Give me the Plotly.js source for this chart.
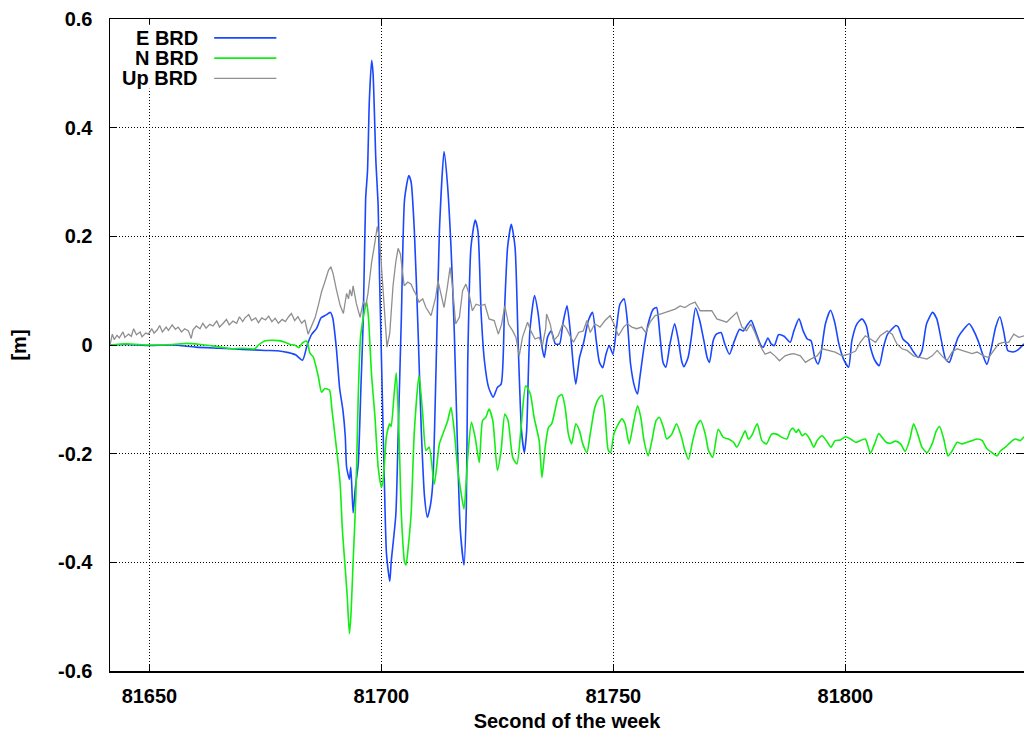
<!DOCTYPE html>
<html>
<head>
<meta charset="utf-8">
<script src="https://cdn.plot.ly/plotly-3.0.1.min.js"></script>
<style>html,body{margin:0;padding:0;background:#fff;}#chart{width:1024px;height:734px;}</style>
</head>
<body>
<div id="chart"></div>
<script>
// ---- data ----
const seriesNames = ["E BRD", "N BRD", "Up BRD"];
const xTickVals = [81650, 81700, 81750, 81800];
const xTickText = ["81650", "81700", "81750", "81800"];
const yTickVals = [-0.6, -0.4, -0.2, 0, 0.2, 0.4, 0.6];
const yTickText = ["-0.6", "-0.4", "-0.2", "0", "0.2", "0.4", "0.6"];

const eT = [81641.5,81645,81650,81655,81660,81665,81670,81675,81678,81680,81681.5,81683,81684,81685,81686,81687,81688,81689,81689.5,81690.3,81691,81691.7,81692.2,81692.5,81693.1,81693.4,81693.9,81694.3,81694.6,81695,81695.6,81696.1,81696.6,81697,81697.4,81697.9,81698.2,81698.8,81699.3,81699.6,81700,81700.6,81701.1,81701.8,81702.1,81703.1,81703.6,81704.3,81705,81705.9,81706.4,81707.1,81707.9,81708.6,81709.3,81709.9,81710.6,81711.1,81711.8,81712.5,81713.5,81714.2,81715,81715.7,81716.5,81717,81717.8,81718.3,81718.6,81719.3,81720.2,81720.8,81721.5,81722.2,81723.1,81724.1,81725,81725.8,81726.5,81727.2,81728,81728.8,81729.5,81730.2,81730.8,81731.3,81732,81733,81733.8,81734.5,81735.1,81735.8,81736.6,81737.5,81738.4,81739.1,81740,81740.7,81741.4,81741.9,81742.7,81743.6,81744.6,81745.5,81746.3,81747,81747.7,81748.4,81749.1,81749.9,81750.6,81751.4,81752.3,81753,81753.7,81754.6,81755.2,81755.7,81756.6,81757.5,81758.6,81759.3,81760,81760.7,81761.3,81762.2,81763.2,81763.9,81764.7,81765.2,81766.1,81766.8,81767.7,81768.6,81769.5,81770.2,81770.7,81771.5,81772.2,81773.2,81774,81775,81776.1,81777.2,81778,81778.8,81779.7,81780.6,81781.8,81782.3,81783.3,81784,81784.7,81785.6,81786.8,81788.1,81788.9,81790,81790.9,81791.8,81792.6,81793.4,81794.1,81794.6,81795.7,81796.8,81797.7,81798.6,81799.6,81800.7,81801.4,81802.5,81803.6,81804.5,81805.4,81806.4,81807.3,81808.2,81809.1,81810,81810.9,81811.4,81812.4,81813.6,81814.7,81815.7,81816.5,81817.5,81818.8,81819.7,81820.7,81821.6,81822.4,81823.2,81824.3,81825.5,81826.7,81827.5,81828.6,81829.7,81830.5,81831.5,81832.4,81833.3,81834.1,81835,81836.1,81837.2,81838.5];
const eV = [0.0,0.001,-0.001,0.0,-0.004,-0.006,-0.008,-0.010,-0.011,-0.014,-0.018,-0.028,0.0,0.02,0.03,0.05,0.055,0.06,0.05,-0.007,-0.08,-0.12,-0.167,-0.225,-0.247,-0.225,-0.309,-0.27,-0.247,-0.22,-0.073,0.051,0.269,0.32,0.45,0.524,0.50,0.34,0.255,0.124,-0.022,-0.24,-0.385,-0.435,-0.40,-0.313,-0.167,0.051,0.269,0.312,0.30,0.21,0.026,-0.158,-0.28,-0.317,-0.293,-0.25,-0.035,0.21,0.356,0.30,0.18,0.026,-0.22,-0.34,-0.405,-0.3,-0.035,0.18,0.23,0.21,0.057,-0.029,-0.078,-0.096,-0.078,-0.072,0.057,0.18,0.222,0.18,-0.004,-0.158,-0.198,-0.158,0.026,0.091,0.057,0.002,-0.023,0.014,0.026,0.002,0.002,0.039,0.072,0.026,-0.041,-0.072,-0.023,0.005,0.045,0.06,0.008,-0.032,-0.042,-0.017,-0.001,-0.017,0.026,0.075,0.085,0.045,-0.035,-0.078,-0.09,-0.06,-0.004,0.039,0.066,0.069,0.02,-0.032,-0.041,0.002,0.039,0.014,-0.029,-0.04,-0.023,0.014,0.068,0.045,0.008,-0.023,-0.032,0.008,0.02,0.023,0.002,-0.017,0.008,0.029,0.026,0.036,0.045,0.026,-0.001,-0.004,0.013,0.002,-0.001,0.019,0.016,0.005,0.026,0.048,0.026,0.011,0.008,-0.023,-0.035,-0.023,0.039,0.064,0.042,0.002,-0.026,-0.041,0.008,0.039,0.048,0.036,-0.004,-0.029,-0.038,-0.004,0.02,0.029,0.036,0.033,0.011,0.002,-0.013,-0.023,-0.011,0.039,0.06,0.048,0.008,-0.026,-0.032,-0.013,0.014,0.029,0.039,0.029,0.008,-0.02,-0.036,-0.004,0.033,0.052,0.026,-0.01,-0.013,-0.009,0.002];

const nT = [81641.5,81645,81650,81655,81658,81661,81664,81667.7,81670,81672.7,81673.5,81675,81677.8,81679.2,81680.3,81681.3,81682.2,81683,81683.9,81684.6,81685.3,81686.4,81687.1,81687.8,81688.8,81689.3,81690,81690.5,81691.1,81691.6,81692.1,81692.6,81693.1,81693.4,81693.9,81694.5,81695,81695.5,81696.1,81696.8,81697.2,81697.9,81698.6,81699.3,81700,81700.4,81701.1,81701.8,81702.1,81702.7,81703.2,81703.8,81704.3,81705,81705.3,81705.8,81706.4,81707.1,81708.1,81708.9,81709.6,81710.3,81711.4,81712.5,81713.5,81714.3,81715,81715.7,81716.4,81717.1,81717.8,81718.6,81719.4,81720.2,81721.1,81721.8,81722.5,81723.2,81724,81725,81725.8,81726.6,81727.3,81728.3,81729.2,81730.1,81731.1,81732.1,81732.9,81734,81734.6,81735.3,81736,81736.7,81737.4,81738.1,81738.9,81739.6,81740.3,81741,81741.9,81742.7,81743.4,81744.3,81745,81746,81747,81747.6,81748.2,81748.9,81749.4,81750.1,81750.9,81751.8,81752.5,81753.4,81754.3,81755.2,81755.9,81756.6,81757.5,81758.3,81759.2,81759.9,81760.8,81761.5,81762.6,81763.6,81764.7,81765.4,81766.2,81767.1,81768,81768.8,81769.8,81770.5,81771.4,81772.6,81773.7,81774.8,81775.9,81776.6,81777.7,81778.4,81779.1,81779.8,81781,81782,81783,81784.1,81785.2,81786.3,81787.4,81788.1,81788.7,81789.4,81789.9,81790.7,81791.4,81792.3,81793.2,81793.9,81795,81795.9,81796.9,81797.8,81798.9,81800,81801.1,81802.2,81803.2,81804.3,81805.4,81806.3,81807.2,81807.9,81808.8,81809.7,81810.8,81811.9,81812.9,81813.9,81814.7,81815.6,81816.5,81817.6,81818.7,81819.6,81820.3,81821.2,81822.1,81823,81824.1,81825.1,81826.2,81827.3,81828.4,81829.5,81830.5,81831.6,81832.7,81833.4,81834.5,81835.6,81836.6,81837.7,81838.5];
const nV = [0.0,0.002,0.0,0.001,0.003,0.001,-0.002,-0.007,-0.006,-0.007,0.0,0.008,0.008,0.005,0.001,0.0,-0.005,0.004,0.007,-0.015,-0.022,-0.058,-0.087,-0.08,-0.083,-0.116,-0.167,-0.204,-0.255,-0.342,-0.4,-0.458,-0.531,-0.502,-0.4,-0.276,-0.095,0.015,0.051,0.08,0.051,-0.058,-0.131,-0.225,-0.262,-0.247,-0.167,-0.145,-0.15,-0.095,-0.051,-0.167,-0.313,-0.4,-0.405,-0.37,-0.311,-0.158,-0.056,-0.127,-0.194,-0.188,-0.256,-0.182,-0.158,-0.139,-0.115,-0.158,-0.225,-0.268,-0.302,-0.207,-0.142,-0.17,-0.216,-0.139,-0.133,-0.118,-0.139,-0.231,-0.194,-0.127,-0.139,-0.207,-0.219,-0.152,-0.075,-0.09,-0.133,-0.176,-0.244,-0.188,-0.152,-0.145,-0.121,-0.096,-0.091,-0.115,-0.164,-0.182,-0.145,-0.158,-0.182,-0.198,-0.164,-0.115,-0.096,-0.093,-0.127,-0.194,-0.198,-0.164,-0.148,-0.136,-0.145,-0.182,-0.145,-0.112,-0.133,-0.176,-0.204,-0.176,-0.139,-0.133,-0.152,-0.173,-0.164,-0.145,-0.17,-0.194,-0.21,-0.176,-0.148,-0.139,-0.164,-0.194,-0.207,-0.155,-0.17,-0.173,-0.179,-0.188,-0.17,-0.158,-0.173,-0.167,-0.145,-0.176,-0.182,-0.164,-0.164,-0.17,-0.173,-0.158,-0.153,-0.161,-0.155,-0.167,-0.163,-0.173,-0.188,-0.176,-0.167,-0.176,-0.188,-0.176,-0.175,-0.169,-0.173,-0.179,-0.176,-0.173,-0.199,-0.182,-0.163,-0.17,-0.179,-0.181,-0.177,-0.182,-0.196,-0.173,-0.145,-0.164,-0.188,-0.198,-0.182,-0.158,-0.15,-0.173,-0.204,-0.195,-0.179,-0.182,-0.179,-0.176,-0.173,-0.176,-0.191,-0.198,-0.204,-0.195,-0.188,-0.179,-0.173,-0.176,-0.169];

const uT = [81641.5,81642,81642.4,81643,81643.5,81644.3,81644.7,81645.5,81646.1,81646.6,81647.2,81648,81648.4,81649.2,81649.8,81650.5,81651,81651.7,81652.2,81652.8,81653.6,81654.1,81654.9,81655.6,81656.2,81656.9,81657.6,81658.4,81659,81659.4,81660.1,81660.9,81661.5,81662.2,81663,81663.7,81664.5,81665.1,81665.9,81666.6,81667.2,81668,81668.8,81669.4,81670.1,81670.6,81671.4,81672,81672.9,81673.5,81674.2,81675,81675.7,81676.4,81677.1,81677.8,81678.6,81679.3,81680,81680.6,81681.3,81682,81682.8,81683.5,81684.2,81685,81685.7,81686.4,81687.1,81687.8,81688.6,81689.1,81689.6,81690.3,81691.1,81691.8,81692.5,81692.9,81693.2,81693.6,81693.9,81694.6,81695.4,81696.1,81696.6,81697.1,81697.9,81698.6,81699.1,81699.6,81700.2,81700.7,81701.2,81701.8,81702.5,81703.1,81703.6,81704.1,81704.9,81705.7,81706.4,81707,81707.4,81708.1,81708.9,81709.6,81710.7,81711.7,81712.2,81712.8,81713.5,81714.2,81714.8,81715.3,81716,81716.8,81717.5,81718.2,81718.9,81719.6,81720.4,81721.4,81722.3,81723.2,81724.3,81725.2,81725.9,81726.6,81727.4,81728.3,81729,81729.7,81730.4,81731.5,81732.2,81733.1,81734,81734.7,81735.4,81735.6,81736.4,81737.1,81738.1,81739.1,81739.9,81740.8,81741.4,81742.5,81743.5,81744.3,81745,81746,81747.1,81748.2,81749.3,81750.1,81751.1,81752.2,81753,81754,81755,81756.1,81757,81757.9,81759,81760.1,81761.1,81762.2,81763.3,81764.4,81765.4,81766.5,81767.6,81768.7,81769.8,81770.8,81771.2,81772.3,81773.3,81774.4,81775.5,81776.6,81777.7,81778.7,81779.6,81780.5,81781.6,81782.7,81783.8,81784.8,81785.8,81787,81788.1,81788.9,81790.3,81791.4,81792.5,81793.9,81795,81796.4,81797.8,81799.3,81800.7,81802.2,81803.2,81804.3,81805.4,81806.5,81807.5,81809,81810.1,81811.1,81812.2,81813.3,81814.7,81816.2,81817.6,81818.7,81819.8,81820.8,81821.9,81823,81824.1,81825.1,81826.2,81827.3,81828.4,81829.8,81830.9,81832,81833,81834.1,81835.2,81836.3,81837.4,81838.5];
const uV = [0.0,0.02,0.01,0.018,0.013,0.024,0.014,0.02,0.016,0.03,0.019,0.024,0.015,0.022,0.02,0.03,0.022,0.028,0.036,0.024,0.033,0.027,0.037,0.029,0.033,0.024,0.03,0.026,0.012,0.028,0.035,0.03,0.04,0.031,0.038,0.035,0.044,0.033,0.04,0.047,0.037,0.044,0.04,0.052,0.043,0.05,0.056,0.045,0.05,0.041,0.05,0.046,0.053,0.043,0.049,0.04,0.047,0.043,0.052,0.058,0.045,0.052,0.04,0.046,0.02,0.035,0.05,0.073,0.098,0.116,0.138,0.144,0.131,0.102,0.073,0.058,0.095,0.085,0.102,0.09,0.109,0.076,0.051,0.08,0.07,0.095,0.153,0.189,0.218,0.196,0.124,0.051,-0.004,0.022,0.109,0.153,0.178,0.167,0.109,0.116,0.112,0.1,0.094,0.079,0.085,0.069,0.054,0.088,0.118,0.095,0.069,0.106,0.143,0.11,0.039,0.051,0.1,0.112,0.094,0.063,0.075,0.072,0.075,0.048,0.045,0.02,0.038,0.072,0.038,0.026,0.014,-0.02,0.014,0.042,0.026,0.011,0.014,-0.001,0.03,0.057,0.038,0.008,0.017,0.039,0.03,0.014,0.005,0.023,0.026,0.045,0.023,0.039,0.033,0.045,0.054,0.039,0.017,0.033,0.039,0.033,0.03,0.033,0.023,0.042,0.054,0.057,0.06,0.063,0.066,0.072,0.069,0.075,0.079,0.063,0.063,0.063,0.063,0.048,0.045,0.042,0.051,0.06,0.033,0.026,0.039,0.023,-0.001,-0.017,-0.013,-0.02,-0.029,-0.02,-0.017,-0.016,-0.02,-0.032,-0.026,-0.02,-0.007,-0.01,-0.013,-0.02,-0.017,-0.011,0.005,0.017,0.011,0.005,0.017,0.026,0.02,0.002,-0.007,-0.01,-0.02,-0.023,-0.026,-0.02,-0.01,-0.02,-0.029,-0.013,-0.007,-0.01,-0.013,-0.016,-0.013,-0.02,-0.023,-0.011,0.002,0.005,0.005,0.02,0.014,0.017];

// ---- styling ----
const colors = ["#1a47ff", "#11ee11", "#8f8f8f"];
const widths = [1.6, 1.6, 1.3];
const shapesLine = ["spline", "spline", "linear"];
const FONT = "Liberation Sans, Arial, Helvetica, sans-serif";
const tickFont = {family: FONT, size: 20, color: "#000", weight: "bold"};

const xs = [eT, nT, uT];
const ys = [eV, nV, uV];
const traces = seriesNames.map((name, i) => ({
  type: "scatter", mode: "lines", name: name,
  x: xs[i], y: ys[i],
  line: {color: colors[i], width: widths[i], shape: shapesLine[i], smoothing: 0.6},
  showlegend: false
}));

// manual legend (text right-aligned, sample line to the right) on a white box
const legendRowsY = [0.971, 0.940, 0.909];
const annotations = seriesNames.map((name, i) => ({
  xref: "paper", yref: "paper", x: 0.099, y: legendRowsY[i],
  xanchor: "right", yanchor: "middle", showarrow: false,
  text: name, font: tickFont
}));
const shapes = [{
  type: "rect", xref: "paper", yref: "paper", layer: "above",
  x0: 0.02, x1: 0.19, y0: 0.893, y1: 0.991,
  fillcolor: "#ffffff", line: {width: 0}
}].concat(seriesNames.map((name, i) => ({
  type: "line", xref: "paper", yref: "paper", layer: "above",
  x0: 0.114, x1: 0.182, y0: legendRowsY[i], y1: legendRowsY[i],
  line: {color: colors[i], width: widths[i]}
})));

const axisCommon = {
  showline: true, linecolor: "#000", linewidth: 1.5, mirror: "ticks",
  ticks: "inside", ticklen: 7, tickwidth: 1, tickcolor: "#000",
  showgrid: true, gridcolor: "#000", gridwidth: 1, griddash: "1px,2px",
  zeroline: false, tickfont: tickFont, automargin: false
};

const layout = {
  width: 1024, height: 734,
  margin: {l: 110, r: 0, t: 19, b: 63, pad: 0},
  paper_bgcolor: "#fff", plot_bgcolor: "#fff",
  xaxis: Object.assign({}, axisCommon, {
    range: [81641.5, 81838.5], tickmode: "array", tickvals: xTickVals, ticktext: xTickText,
    ticklabelstandoff: 6,
    title: {text: "Second of the week", font: tickFont, standoff: 8}
  }),
  yaxis: Object.assign({}, axisCommon, {
    range: [-0.6, 0.6], tickmode: "array", tickvals: yTickVals, ticktext: yTickText,
    ticklabelstandoff: 12,
    title: {text: "[m]", font: tickFont, standoff: 26}
  }),
  annotations: annotations,
  shapes: shapes
};

Plotly.newPlot("chart", traces, layout, {staticPlot: true, displayModeBar: false});
</script>
</body>
</html>
